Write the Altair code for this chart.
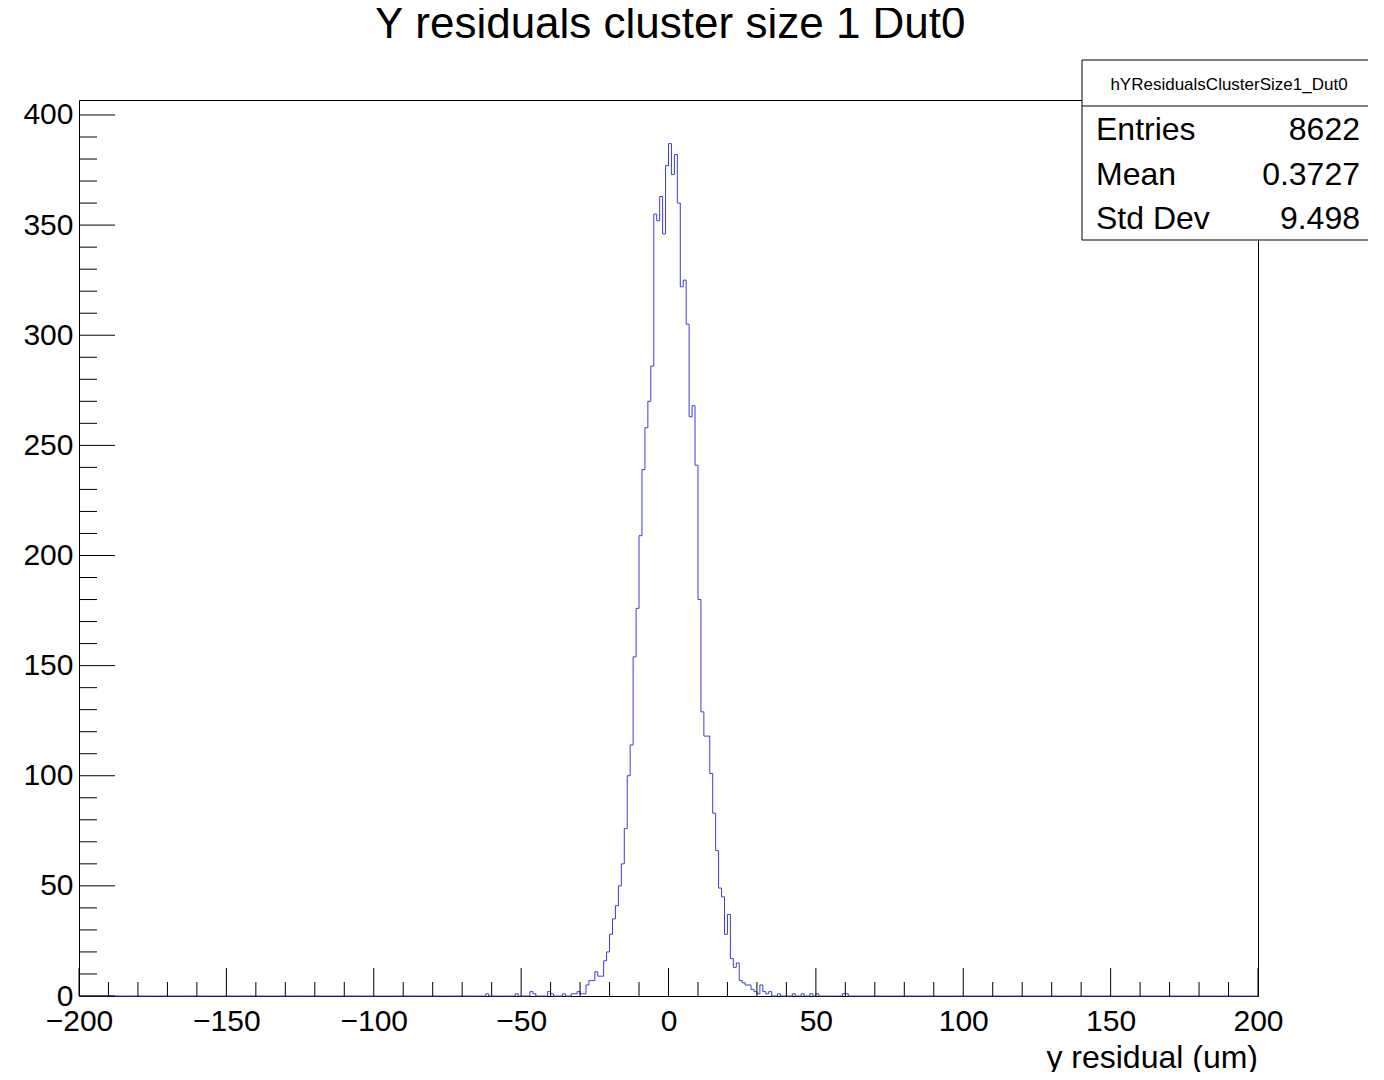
import altair as alt
import pandas as pd

# bin left edge (unit-wide bins) -> counts
bin_lo = [-62, -52, -47, -46, -41, -40, -36, -33, -32, -31, -30, -29, -28, -27, -26, -25, -24, -23, -22, -21,
          -20, -19, -18, -17, -16, -15, -14, -13, -12, -11, -10, -9, -8, -7, -6, -5, -4, -3, -2, -1,
          0, 1, 2, 3, 4, 5, 6, 7, 8, 9, 10, 11, 12, 13, 14, 15, 16, 17, 18, 19,
          20, 21, 22, 23, 24, 25, 26, 27, 28, 29, 30, 31, 32, 33, 34, 37, 42, 45, 48, 50, 59, 60]
counts = [1, 1, 2, 1, 2, 1, 1, 1, 1, 2, 1, 1, 5, 7, 7, 11, 9, 9, 16, 20,
          28, 35, 41, 50, 60, 76, 100, 114, 154, 176, 209, 239, 258, 270, 286, 355, 352, 363, 346, 377,
          387, 373, 382, 360, 322, 325, 305, 263, 268, 241, 180, 129, 118, 118, 101, 83, 66, 49, 45, 28,
          37, 17, 13, 15, 7, 6, 5, 5, 3, 2, 1, 5, 2, 1, 2, 1, 1, 1, 1, 1, 1, 1]
stats_labels = ["Entries", "Mean", "Std Dev"]
stats_values = ["8622", "0.3727", "9.498"]

full = {i: 0 for i in range(-200, 200)}
for b, c in zip(bin_lo, counts):
    full[b] = c
edges = list(range(-200, 201))
vals = [full[e] for e in range(-200, 200)] + [0]
hist = pd.DataFrame({"x": edges, "y": vals})

W, H = 1179, 896
xs = alt.Scale(domain=[-200, 200], nice=False, zero=False)
ys = alt.Scale(domain=[0, 406.8], nice=False)
FONT = "Liberation Sans"

line = alt.Chart(hist).mark_line(interpolate="step-after", color="#3d3dd6", strokeWidth=1).encode(
    x=alt.X("x:Q", scale=xs, axis=alt.Axis(values=list(range(-200, 201, 50)), ticks=False, domain=False,
                                          grid=False, title=None, labelFontSize=30, labelFont=FONT,
                                          labelColor="black", labelPadding=10, labelFlush=False)),
    y=alt.Y("y:Q", scale=ys, axis=alt.Axis(values=list(range(0, 401, 50)), ticks=False, domain=False,
                                          grid=False, title=None, labelFontSize=30, labelFont=FONT,
                                          labelColor="black", labelPadding=6)),
)

xt = pd.DataFrame({"v": list(range(-200, 201, 10))})
xmaj = alt.Chart(xt[xt["v"] % 50 == 0]).mark_rule(color="black").encode(
    x=alt.X("v:Q", scale=xs), y=alt.value(H), y2=alt.value(H - 28))
xmin = alt.Chart(xt[xt["v"] % 50 != 0]).mark_rule(color="black").encode(
    x=alt.X("v:Q", scale=xs), y=alt.value(H), y2=alt.value(H - 14))

yt = pd.DataFrame({"v": list(range(0, 401, 10))})
ymaj = alt.Chart(yt[yt["v"] % 50 == 0]).mark_rule(color="black").encode(
    y=alt.Y("v:Q", scale=ys), x=alt.value(0), x2=alt.value(36))
ymin = alt.Chart(yt[yt["v"] % 50 != 0]).mark_rule(color="black").encode(
    y=alt.Y("v:Q", scale=ys), x=alt.value(0), x2=alt.value(18))


def txt(t, x, y, size, align):
    return alt.Chart(pd.DataFrame({"t": [t]})).mark_text(
        fontSize=size, font=FONT, align=align, baseline="middle", color="black").encode(
        text="t:N", x=alt.value(x), y=alt.value(y))


title = txt("Y residuals cluster size 1 Dut0", 591, -75, 44, "center")
xtitle = txt("y residual (um)", W, H + 62, 32, "right")

box = alt.Chart(pd.DataFrame({"a": [0]})).mark_rect(fill="white", stroke="black", strokeWidth=1).encode(
    x=alt.value(1003), x2=alt.value(1297), y=alt.value(-40), y2=alt.value(140))
hline = alt.Chart(pd.DataFrame({"a": [0]})).mark_rule(color="black").encode(
    x=alt.value(1003), x2=alt.value(1297), y=alt.value(6))
header = txt("hYResidualsClusterSize1_Dut0", 1150, -15, 17, "center")
rows_y = [30, 75, 119]
stat_marks = []
for l, v, ry in zip(stats_labels, stats_values, rows_y):
    stat_marks.append(txt(l, 1017, ry, 32, "left"))
    stat_marks.append(txt(v, 1281, ry, 32, "right"))

chart = alt.layer(line, xmaj, xmin, ymaj, ymin, title, xtitle, box, hline, header, *stat_marks).properties(
    width=W, height=H, autosize=alt.AutoSizeParams(type="none"),
    padding={"left": 71, "top": 92, "right": 110, "bottom": 76},
    background="white",
).configure_view(stroke="black", strokeWidth=1)

chart.save("out.html", embed_options={"renderer": "svg", "actions": False})
